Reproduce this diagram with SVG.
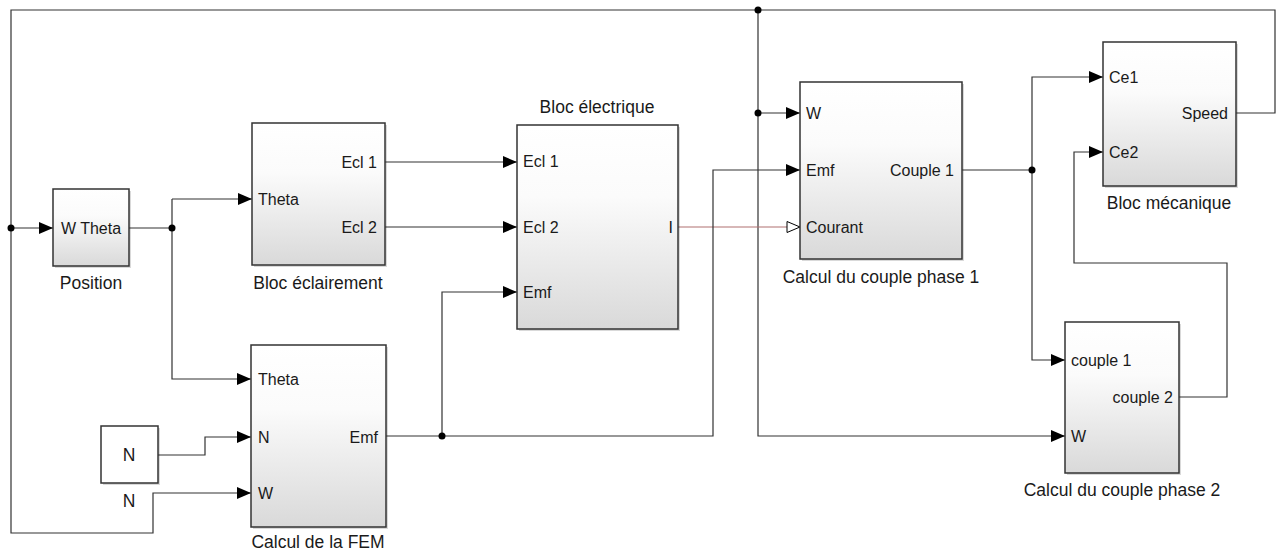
<svg xmlns="http://www.w3.org/2000/svg" width="1277" height="554" viewBox="0 0 1277 554">
<defs>
<linearGradient id="g" x1="0" y1="0" x2="0" y2="1">
<stop offset="0" stop-color="#ffffff"/>
<stop offset="0.35" stop-color="#fbfbfb"/>
<stop offset="1" stop-color="#d9d9d9"/>
</linearGradient>
<marker id="a" markerUnits="userSpaceOnUse" markerWidth="15" markerHeight="13" refX="14" refY="6" orient="auto" viewBox="0 0 15 13">
<path d="M0,0 L14,6 L0,12 z" fill="#000"/>
</marker>
<marker id="h" markerUnits="userSpaceOnUse" markerWidth="15" markerHeight="13" refX="14" refY="6.5" orient="auto" viewBox="0 0 15 13">
<path d="M1,1 L14,6.5 L1,12 z" fill="#fff" stroke="#000" stroke-width="1"/>
</marker>
</defs>
<style>
.blk{fill:url(#g);stroke:#333;stroke-width:1.5}
.sh{fill:#000;opacity:0.15}
.c{fill:none;stroke:#333;stroke-width:1.2}
.t{font-family:"Liberation Sans",Arial,sans-serif;font-size:17.5px;fill:#1a1a1a}
.p{font-family:"Liberation Sans",Arial,sans-serif;font-size:16px;fill:#1a1a1a}
.m{text-anchor:middle}
.e{text-anchor:end}
.d{fill:#000}
</style>
<rect width="1277" height="554" fill="#fff"/>
<g id="connectors">
<path class="c" d="M1236,113 H1275 V10 H11 V533 H153 V493 H251" marker-end="url(#a)"/>
<path class="c" d="M11,228 H53" marker-end="url(#a)"/>
<path class="c" d="M758,10 V436 H1065" marker-end="url(#a)"/>
<path class="c" d="M758,113 H800" marker-end="url(#a)"/>
<path class="c" d="M129,228 H172"/>
<path class="c" d="M172,199 H252" marker-end="url(#a)"/>
<path class="c" d="M172,199 V379 H251" marker-end="url(#a)"/>
<path class="c" d="M385,162 H517" marker-end="url(#a)"/>
<path class="c" d="M385,227 H517" marker-end="url(#a)"/>
<path d="M678,227 H800" fill="none" stroke="#b07070" stroke-width="1.2" marker-end="url(#h)"/>
<path class="c" d="M386,436 H713 V170 H800" marker-end="url(#a)"/>
<path class="c" d="M442,436 V292 H517" marker-end="url(#a)"/>
<path class="c" d="M158,455 H205 V437 H251" marker-end="url(#a)"/>
<path class="c" d="M962,170 H1032"/>
<path class="c" d="M1032,170 V77 H1103" marker-end="url(#a)"/>
<path class="c" d="M1032,170 V360 H1065" marker-end="url(#a)"/>
<path class="c" d="M1179,397 H1227 V263 H1074 V152 H1103" marker-end="url(#a)"/>
<circle class="d" cx="758" cy="10" r="3.5"/>
<circle class="d" cx="11" cy="228" r="3.5"/>
<circle class="d" cx="172" cy="228" r="3.5"/>
<circle class="d" cx="442" cy="436" r="3.5"/>
<circle class="d" cx="758" cy="113" r="3.5"/>
<circle class="d" cx="1032" cy="170" r="3.5"/>
</g>
<g id="position">
<rect class="sh" x="55" y="191" width="76" height="77"/>
<rect class="blk" x="53" y="189" width="76" height="77"/>
<text class="p m" x="91" y="234">W Theta</text>
<text class="t m" x="91" y="289">Position</text>
</g>
<g id="bloc-eclairement">
<rect class="sh" x="254" y="125" width="133" height="142"/>
<rect class="blk" x="252" y="123" width="133" height="142"/>
<text class="p" x="258" y="205">Theta</text>
<text class="p e" x="377" y="168">Ecl 1</text>
<text class="p e" x="377" y="233">Ecl 2</text>
<text class="t m" x="318" y="289">Bloc éclairement</text>
</g>
<g id="bloc-electrique">
<rect class="sh" x="519" y="127" width="161" height="204"/>
<rect class="blk" x="517" y="125" width="161" height="204"/>
<text class="t m" x="597" y="113">Bloc électrique</text>
<text class="p" x="523" y="167">Ecl 1</text>
<text class="p" x="523" y="233">Ecl 2</text>
<text class="p" x="523" y="298">Emf</text>
<text class="p e" x="673" y="233">I</text>
</g>
<g id="couple-phase-1">
<rect class="sh" x="802" y="84" width="162" height="177"/>
<rect class="blk" x="800" y="82" width="162" height="177"/>
<text class="p" x="806" y="119">W</text>
<text class="p" x="806" y="176">Emf</text>
<text class="p" x="806" y="233">Courant</text>
<text class="p e" x="954" y="176">Couple 1</text>
<text class="t m" x="881" y="283">Calcul du couple phase 1</text>
</g>
<g id="bloc-mecanique">
<rect class="sh" x="1105" y="44" width="133" height="144"/>
<rect class="blk" x="1103" y="42" width="133" height="144"/>
<text class="p" x="1109" y="83">Ce1</text>
<text class="p" x="1109" y="158">Ce2</text>
<text class="p e" x="1228" y="119">Speed</text>
<text class="t m" x="1169" y="209">Bloc mécanique</text>
</g>
<g id="couple-phase-2">
<rect class="sh" x="1067" y="324" width="114" height="151"/>
<rect class="blk" x="1065" y="322" width="114" height="151"/>
<text class="p" x="1071" y="366">couple 1</text>
<text class="p e" x="1173" y="403">couple 2</text>
<text class="p" x="1071" y="442">W</text>
<text class="t m" x="1122" y="496">Calcul du couple phase 2</text>
</g>
<g id="calcul-fem">
<rect class="sh" x="253" y="347" width="135" height="182"/>
<rect class="blk" x="251" y="345" width="135" height="182"/>
<text class="p" x="258" y="385">Theta</text>
<text class="p" x="258" y="443">N</text>
<text class="p" x="258" y="499">W</text>
<text class="p e" x="378" y="443">Emf</text>
<text class="t m" x="318" y="548">Calcul de la FEM</text>
</g>
<g id="n-const">
<rect class="sh" x="103" y="428" width="57" height="57"/>
<rect x="101" y="426" width="57" height="57" fill="#fff" stroke="#333" stroke-width="1.5"/>
<text class="t m" x="129" y="461">N</text>
<text class="t m" x="129" y="507">N</text>
</g>
</svg>
